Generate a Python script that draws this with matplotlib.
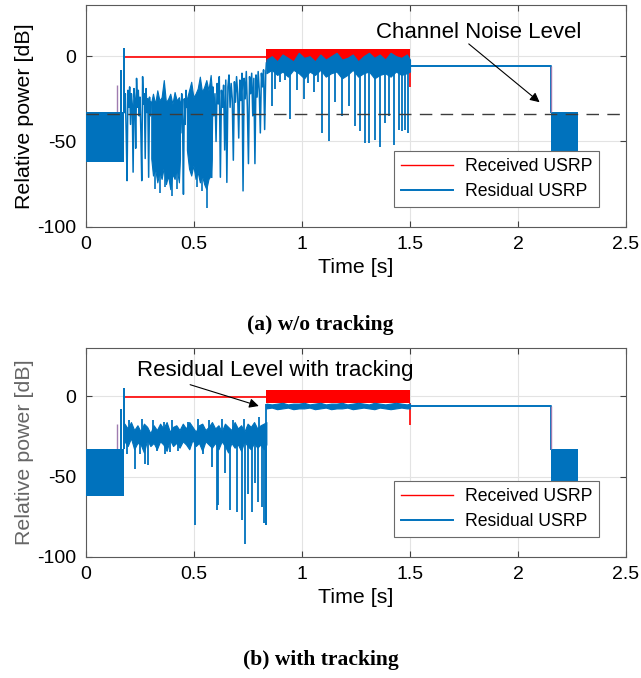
import matplotlib
matplotlib.use("Agg")
import matplotlib.pyplot as plt
from matplotlib.lines import Line2D

plt.rcParams['font.family'] = ['Liberation Sans', 'DejaVu Sans']
plt.rcParams['axes.unicode_minus'] = False

RED = '#ff0000'
BLUE = '#0072bd'
MIX = '#a07cb0'

# Noise floor block before and after the transmission (both panels).
noise_t = [0.0, 0.178]
tail_t = [2.155, 2.28]
noise_lo = [-62, -62]
noise_hi = [-33, -33]

# Burst onset spikes at the start of the transmission.
burst_t = [0.161, 0.174]
burst_top = [-8, 5]
rx_onset_t = [0.142]
rx_onset_top = [-17]

# Received USRP (red).
rx_line_t = [0.178, 0.835]
rx_line_v = [-0.5, -0.5]
rx_band_t = [0.835, 1.5]
rx_band_lo = [-4, -4]
rx_band_hi = [4, 4]
rx_drop_t = [1.5]
rx_drop_v = [-18]

# Residual steady part after 1.5 s.
steady_t = [1.5, 2.155, 2.155]
steady_v = [-6, -6, -33]

# Second part of the burst (0.835 - 1.5 s), time grid shared by both panels.
mid_t = [0.835, 0.86, 0.885, 0.91, 0.935, 0.96, 0.985, 1.01, 1.035, 1.06, 1.085, 1.11, 1.135, 1.16,
         1.185, 1.21, 1.235, 1.26, 1.285, 1.31, 1.335, 1.36, 1.385, 1.41, 1.435, 1.46, 1.485, 1.5]

# ---- (a) w/o tracking ----
a_trace1_t = [0.178, 0.182, 0.186, 0.190, 0.194, 0.198, 0.202, 0.206, 0.210, 0.214, 0.218, 0.222,
              0.226, 0.230, 0.234, 0.238, 0.242, 0.246, 0.250, 0.254, 0.258, 0.262, 0.266, 0.270,
              0.274, 0.278, 0.282, 0.286, 0.290, 0.294, 0.298, 0.302]
a_trace1_v = [-33, -22, -45, -73, -20, -30, -18, -40, -22, -28, -68, -19, -25, -54, -13, -30,
              -20, -35, -24, -45, -73, -12, -28, -22, -60, -19, -33, -25, -71, -24, -35, -27]
a_block1_t = [0.302, 0.31, 0.32, 0.33, 0.34, 0.35, 0.36, 0.37, 0.38, 0.39, 0.40, 0.41, 0.42, 0.43, 0.435]
a_block1_hi = [-27, -22, -28, -20, -26, -24, -14, -27, -25, -22, -28, -21, -26, -24, -27]
a_block1_lo = [-60, -70, -66, -74, -68, -72, -65, -75, -70, -78, -69, -72, -66, -74, -60]
a_trace2_t = [0.435, 0.439, 0.443, 0.447, 0.451, 0.455, 0.459, 0.463, 0.467]
a_trace2_v = [-27, -45, -22, -38, -81, -25, -40, -20, -30]
a_block2_t = [0.467, 0.477, 0.487, 0.497, 0.507, 0.517, 0.527, 0.537, 0.547, 0.557, 0.567, 0.577, 0.582]
a_block2_hi = [-25, -20, -15, -24, -22, -19, -12, -21, -18, -14, -20, -11, -19]
a_block2_lo = [-55, -66, -70, -64, -72, -68, -74, -70, -75, -78, -72, -70, -60]
a_block_dip_t = [0.320, 0.343, 0.366, 0.397, 0.420, 0.513, 0.536, 0.559]
a_block_dip_v = [-78, -80, -77, -82, -78, -77, -79, -89]
a_trace3_t = [0.582, 0.587, 0.592, 0.597, 0.602, 0.607, 0.612, 0.617, 0.622, 0.627, 0.632, 0.637,
              0.642, 0.647, 0.652, 0.657, 0.662, 0.667, 0.672, 0.677, 0.682, 0.687, 0.692, 0.697,
              0.702, 0.707, 0.712, 0.717, 0.722, 0.727, 0.732, 0.737, 0.742, 0.747, 0.752, 0.757,
              0.762, 0.767, 0.772, 0.777, 0.782, 0.787, 0.792, 0.797, 0.802, 0.807, 0.812, 0.817,
              0.822, 0.827, 0.832, 0.835]
a_trace3_v = [-71, -18, -35, -22, -50, -16, -28, -12, -71, -20, -30, -17,
              -55, -14, -74, -18, -11, -30, -16, -25, -61, -15, -27, -12,
              -22, -48, -14, -26, -10, -79, -13, -25, -9, -30, -63, -12,
              -22, -10, -35, -13, -63, -11, -24, -9, -20, -45, -10, -18,
              -8, -43, -10, -4]

a_mid_hi = [-2, 0, -3, 1, -1, -3, 2, -1, 0, -3, 1, -2, 0, 2, -2, -1, 1, -3, 0, 2, -1, 1, -2, 2, 0, -1, 1, -2]
a_mid_lo = [-10, -8, -11, -9, -12, -8, -10, -13, -9, -11, -8, -12, -10, -9, -13, -11, -8, -12, -10, -9,
            -13, -11, -10, -12, -9, -11, -10, -9]
a_mid_dip_t = [0.860, 0.876, 0.899, 0.920, 0.945, 0.976, 1.007, 1.030, 1.054, 1.075, 1.092, 1.123, 1.154,
               1.185, 1.216, 1.247, 1.270, 1.293, 1.309, 1.340, 1.363, 1.386, 1.402, 1.425, 1.448, 1.464,
               1.479, 1.490]
a_mid_dip_v = [-29, -19, -15, -14, -37, -20, -25, -16, -21, -15, -45, -50, -27,
               -35, -29, -41, -44, -51, -51, -49, -53, -39, -35, -52, -43, -44,
               -43, -45]

noise_level = -34

# ---- (b) with tracking ----
b_body_t = [0.178, 0.193, 0.208, 0.223, 0.238, 0.253, 0.268, 0.283, 0.298, 0.313,
            0.328, 0.343, 0.358, 0.373, 0.388, 0.403, 0.418, 0.433, 0.448, 0.463,
            0.478, 0.493, 0.508, 0.523, 0.538, 0.553, 0.568, 0.583, 0.598, 0.613,
            0.628, 0.643, 0.658, 0.673, 0.688, 0.703, 0.718, 0.733, 0.748, 0.763,
            0.778, 0.793, 0.808, 0.823, 0.835]
b_body_hi = [-17, -20, -16, -21, -18, -22, -17, -19, -23, -18,
             -21, -17, -20, -16, -22, -19, -18, -21, -17, -20,
             -16, -19, -22, -18, -17, -21, -19, -16, -20, -18,
             -22, -17, -19, -21, -16, -20, -18, -22, -17, -19,
             -16, -20, -18, -17, -16]
b_body_lo = [-28, -31, -26, -33, -29, -30, -35, -27, -31, -29,
             -33, -28, -30, -34, -27, -31, -29, -32, -28, -30,
             -33, -27, -31, -29, -34, -28, -30, -32, -29, -33,
             -28, -31, -35, -29, -32, -30, -34, -28, -31, -33,
             -29, -32, -30, -33, -30]
b_dip_t = [0.189, 0.227, 0.250, 0.273, 0.289, 0.327, 0.366, 0.389, 0.428, 0.505, 0.543, 0.582, 0.605,
           0.613, 0.644, 0.667, 0.698, 0.721, 0.737, 0.752, 0.767, 0.783, 0.798, 0.814, 0.822, 0.834]
b_dip_v = [-36, -45, -36, -42, -43, -34, -36, -35, -34, -80, -36, -44, -71,
           -68, -48, -71, -72, -77, -92, -61, -72, -54, -66, -69, -79, -80]
b_up_t = [0.20, 0.26, 0.31, 0.36, 0.40, 0.47, 0.52, 0.57, 0.63, 0.68, 0.73, 0.80]
b_up_v = [-15, -14, -15, -16, -15, -16, -14, -15, -14, -15, -14, -13]
b_mid_hi = [-4.5, -5, -4.5, -4, -5, -4.5, -4.5, -4, -5, -4.5, -4, -5, -4.5, -4.5, -4, -5, -4.5, -4, -4.5, -5,
            -4, -4.5, -5, -4.5, -4, -4.5, -5, -4.5]
b_mid_lo = [-7.5, -7, -8, -7.5, -7, -8, -7.5, -7.5, -7, -8, -7.5, -7, -8, -7.5, -7.5, -7, -8, -7.5, -7, -7.5,
            -8, -7, -7.5, -8, -7.5, -7, -7.5, -7.5]

x_ticks = [0, 0.5, 1, 1.5, 2, 2.5]
x_tick_labels = ['0', '0.5', '1', '1.5', '2', '2.5']
y_ticks = [-100, -50, 0]


def draw_common(ax):
    # Received trace underneath the residual.
    ax.plot(rx_line_t, rx_line_v, color=RED, lw=1.2, zorder=2)
    ax.fill_between(rx_band_t, rx_band_lo, rx_band_hi, color=RED, lw=0, zorder=2)
    ax.vlines(rx_drop_t, rx_drop_v, rx_band_lo[-1], color=RED, lw=1.2, zorder=2)
    ax.vlines(rx_onset_t, noise_hi[0], rx_onset_top, color=MIX, lw=1.0, zorder=2)

    # Residual noise blocks, onset spikes and steady tail.
    ax.fill_between(noise_t, noise_lo, noise_hi, color=BLUE, lw=0, zorder=3)
    ax.fill_between(tail_t, noise_lo, noise_hi, color=BLUE, lw=0, zorder=3)
    ax.vlines(burst_t, noise_hi[0], burst_top, color=BLUE, lw=1.4, zorder=3)
    ax.plot(steady_t, steady_v, color=BLUE, lw=1.4, zorder=3)
    ax.vlines([steady_t[-1]], steady_v[-1], steady_v[0], color=MIX, lw=1.0, zorder=4)

    ax.set_xlim(0, 2.5)
    ax.set_ylim(-100, 30)
    ax.set_xticks(x_ticks)
    ax.set_xticklabels(x_tick_labels)
    ax.set_yticks(y_ticks)
    ax.grid(True, color='#e3e3e3', lw=0.8)
    ax.set_axisbelow(True)
    ax.tick_params(direction='in', top=True, right=True, length=4, width=0.8,
                   colors='#404040', labelcolor='black', labelsize=14, pad=7)
    for sp in ax.spines.values():
        sp.set_color('#5a5a5a')
        sp.set_linewidth(0.8)
    ax.set_xlabel('Time [s]', fontsize=15.4, labelpad=3)

    handles = [Line2D([], [], color=RED, lw=1.0), Line2D([], [], color=BLUE, lw=1.4)]
    leg = ax.legend(handles, ['Received USRP', 'Residual USRP'], loc='lower right',
                    bbox_to_anchor=(0.967, 0.05), fontsize=12.7, frameon=True,
                    fancybox=False, framealpha=1, edgecolor='#6a6a6a',
                    handlelength=2.9, borderpad=0.4, labelspacing=0.45, handletextpad=0.7)
    leg.get_frame().set_linewidth(0.8)
    leg.set_zorder(10)


def draw_arrow(ax, tail, head):
    ax.annotate('', xy=head, xytext=tail, zorder=6,
                arrowprops=dict(arrowstyle='-|>', color='black', lw=0.8,
                                mutation_scale=14, shrinkA=0, shrinkB=0))


fig = plt.figure(figsize=(6.41, 6.78), dpi=100)
ax_a = fig.add_axes([0.1342, 0.6656, 0.8424, 0.327])
ax_b = fig.add_axes([0.1342, 0.1789, 0.8424, 0.3074])

# (a) residual without tracking
draw_common(ax_a)
ax_a.plot(a_trace1_t, a_trace1_v, color=BLUE, lw=1.1, zorder=3)
ax_a.fill_between(a_block1_t, a_block1_lo, a_block1_hi, color=BLUE, lw=0.8, zorder=3)
ax_a.plot(a_trace2_t, a_trace2_v, color=BLUE, lw=1.1, zorder=3)
ax_a.fill_between(a_block2_t, a_block2_lo, a_block2_hi, color=BLUE, lw=0.8, zorder=3)
ax_a.vlines(a_block_dip_t, a_block_dip_v, -40, color=BLUE, lw=1.2, zorder=3)
ax_a.plot(a_trace3_t, a_trace3_v, color=BLUE, lw=1.1, zorder=3)
ax_a.fill_between(mid_t, a_mid_lo, a_mid_hi, color=BLUE, lw=0.8, zorder=3)
ax_a.vlines(a_mid_dip_t, a_mid_dip_v, -5, color=BLUE, lw=1.3, zorder=3)
ax_a.axhline(noise_level, color='#3c3c3c', lw=1.0, dashes=(9, 6), zorder=5)
ax_a.set_ylabel('Relative power [dB]', fontsize=15.4, labelpad=2)
ax_a.text(1.817, 14, 'Channel Noise Level', fontsize=16, ha='center', va='center', zorder=6)
draw_arrow(ax_a, (1.772, 7.2), (2.10, -27))

# (b) residual with tracking
draw_common(ax_b)
ax_b.fill_between(b_body_t, b_body_lo, b_body_hi, color=BLUE, lw=0.8, zorder=3)
ax_b.vlines(b_dip_t, b_dip_v, -25, color=BLUE, lw=1.3, zorder=3)
ax_b.vlines(b_up_t, -22, b_up_v, color=BLUE, lw=1.3, zorder=3)
ax_b.vlines([b_body_t[-1]], [b_dip_v[-1]], [b_mid_hi[0]], color=BLUE, lw=1.3, zorder=3)
ax_b.fill_between(mid_t, b_mid_lo, b_mid_hi, color=BLUE, lw=0.8, zorder=3)
ax_b.set_ylabel('Relative power [dB]', fontsize=15.4, labelpad=2, color='#666666')
ax_b.text(0.876, 16, 'Residual Level with tracking', fontsize=16, ha='center', va='center', zorder=6)
draw_arrow(ax_b, (0.482, 7.3), (0.80, -6))

fig.text(0.5, 1 - 325 / 678, '(a) w/o tracking', ha='center', va='center',
         fontsize=15.5, fontweight='bold', family=['Liberation Serif', 'DejaVu Serif'])
fig.text(0.5, 1 - 660 / 678, '(b) with tracking', ha='center', va='center',
         fontsize=15.5, fontweight='bold', family=['Liberation Serif', 'DejaVu Serif'])

fig.savefig('out.png', dpi=100)
